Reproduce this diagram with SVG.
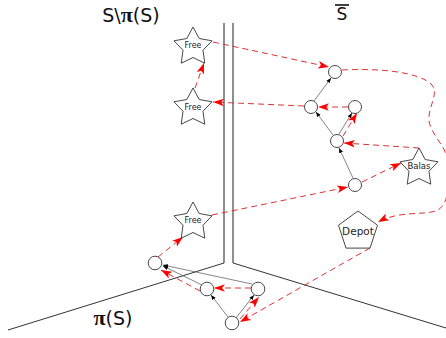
<svg xmlns="http://www.w3.org/2000/svg" width="446" height="338" viewBox="0 0 446 338">
<defs>
<style>
.wall{stroke:#444;stroke-width:1.2;fill:none}
.floor{stroke:#333;stroke-width:1;fill:none}
.node{fill:#fff;stroke:#333;stroke-width:0.9}
.lbl{font-family:"DejaVu Sans",sans-serif;fill:#222;text-anchor:middle}
.red{stroke:#dd3333;stroke-width:1;stroke-dasharray:6,4;fill:none;marker-end:url(#ra)}
.gray{stroke:#666;stroke-width:0.8;fill:none;marker-end:url(#ba)}
.title{font-family:"DejaVu Sans",sans-serif;fill:#111;text-anchor:middle}
</style>
<marker id="ra" markerUnits="userSpaceOnUse" markerWidth="12" markerHeight="10" viewBox="0 -4 11 8" refX="10" refY="0" orient="auto">
<path d="M0,-3.5 L10,0 L0,3.5 L2.5,0 Z" fill="#ff0000"/>
</marker>
<marker id="ba" markerUnits="userSpaceOnUse" markerWidth="6" markerHeight="6" viewBox="0 -3 6 6" refX="5" refY="0" orient="auto">
<path d="M0,-2 L5,0 L0,2 Z" fill="#000"/>
</marker>
<path id="star" d="M0,-20 L6.17,-8.49 L19.02,-6.18 L9.99,3.24 L11.76,16.18 L0,10.5 L-11.76,16.18 L-9.99,3.24 L-19.02,-6.18 L-6.17,-8.49 Z"/>
</defs>
<rect width="446" height="338" fill="#fff"/>
<g id="walls">
<line class="wall" x1="224" y1="23" x2="224" y2="263"/>
<line class="wall" x1="233" y1="23" x2="233" y2="263"/>
<line class="floor" x1="224" y1="263" x2="8" y2="330"/>
<line class="floor" x1="233" y1="263" x2="446" y2="328"/>
</g>
<g id="labels">
<text class="title" x="131" y="22" font-size="19">S\<tspan font-family="Liberation Serif" font-weight="bold" font-size="22">π</tspan>(S)</text>
<text class="title" x="342" y="20" font-size="17">S</text>
<line x1="335" y1="5" x2="349" y2="5" stroke="#111" stroke-width="1.6"/>
<text class="title" x="113" y="325" font-size="19"><tspan font-family="Liberation Serif" font-weight="bold" font-size="22">π</tspan>(S)</text>
</g>
<g id="connectors">
<line class="gray" x1="333" y1="135" x2="316" y2="112"/>
<line class="gray" x1="339" y1="134" x2="352" y2="113"/>
<line class="gray" x1="314" y1="101" x2="331" y2="78"/>
<line class="gray" x1="353" y1="178" x2="339" y2="148"/>
<line class="gray" x1="228" y1="317" x2="211" y2="295"/>
<line class="gray" x1="236" y1="318" x2="254" y2="295"/>
<line class="gray" x1="202" y1="285" x2="163" y2="266"/>
<line class="gray" x1="252" y1="284" x2="163" y2="265"/>
<line class="red" x1="213" y1="42" x2="329" y2="67"/>
<line class="red" x1="304" y1="106" x2="213" y2="102"/>
<line class="red" x1="195" y1="88" x2="204" y2="63"/>
<line class="red" x1="348" y1="107" x2="318" y2="107"/>
<line class="red" x1="343" y1="136" x2="357" y2="113"/>
<line class="red" x1="419" y1="148" x2="344" y2="143"/>
<line class="red" x1="362" y1="182" x2="401" y2="163"/>
<line class="red" x1="212" y1="215" x2="348" y2="187"/>
<line class="red" x1="158" y1="257" x2="183" y2="237"/>
<line class="red" x1="200" y1="291" x2="161" y2="270"/>
<line class="red" x1="251" y1="288" x2="214" y2="288"/>
<line class="red" x1="240" y1="319" x2="259" y2="297"/>
<line class="red" x1="370" y1="248" x2="240" y2="322"/>
<path class="red" d="M342,70 C380,68 420,72 432,85 C440,95 425,110 430,125 C435,140 450,150 447,166 C445,185 452,200 438,210 C425,216 400,210 378,222"/>
</g>
<g id="free1"><use href="#star" x="193" y="47" class="node"/><text class="lbl" x="193" y="48" font-size="8">Free</text></g>
<g id="free2"><use href="#star" x="193" y="108" class="node"/><text class="lbl" x="193" y="110" font-size="8">Free</text></g>
<g id="free3"><use href="#star" x="193" y="222" class="node"/><text class="lbl" x="193" y="223" font-size="8">Free</text></g>
<g id="balas"><use href="#star" x="419" y="168" class="node"/><text class="lbl" x="419" y="169" font-size="8.5">Balas</text></g>
<g id="depot"><polygon class="node" points="358,211 377.5,225.2 370,248.1 346,248.1 338.5,225.2"/><text class="lbl" x="358" y="235" font-size="10.5">Depot</text></g>
<g id="c_top"><circle class="node" cx="335" cy="72" r="6.5"/></g>
<g id="c_midl"><circle class="node" cx="311" cy="107" r="6.5"/></g>
<g id="c_midr"><circle class="node" cx="355" cy="107" r="6.5"/></g>
<g id="c_low"><circle class="node" cx="337" cy="141" r="6.5"/></g>
<g id="c_bot"><circle class="node" cx="355" cy="185" r="6.5"/></g>
<g id="c1"><circle class="node" cx="155" cy="263" r="6.8"/></g>
<g id="c2"><circle class="node" cx="207" cy="289" r="6.8"/></g>
<g id="c3"><circle class="node" cx="258" cy="289" r="6.8"/></g>
<g id="c4"><circle class="node" cx="232" cy="323" r="6.8"/></g>
</svg>
